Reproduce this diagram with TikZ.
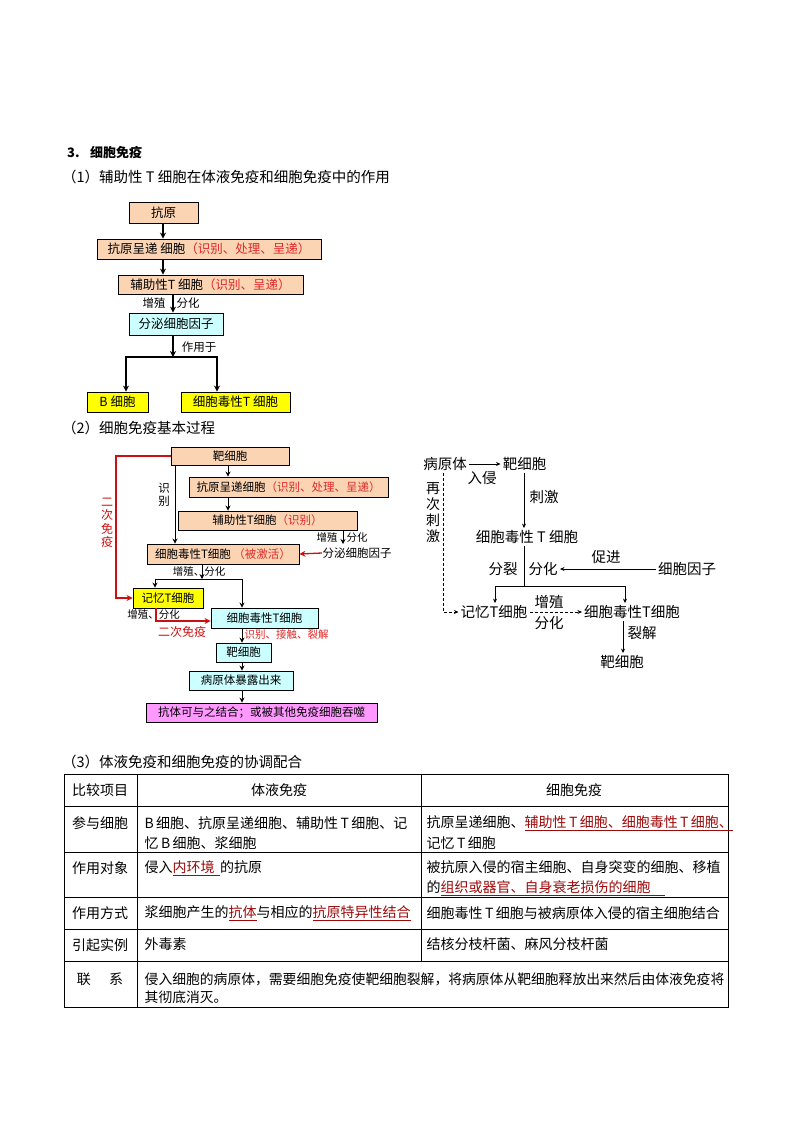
\documentclass[tikz,border=0pt]{standalone}
\usepackage{fontspec}
\setmainfont{Noto Sans CJK SC}
\usetikzlibrary{arrows.meta,calc}
\definecolor{peach}{HTML}{FBD4B4}
\definecolor{lcyan}{HTML}{CCFFFF}
\definecolor{yfill}{HTML}{FFFF00}
\definecolor{mfill}{HTML}{FF99FF}
\definecolor{tred}{HTML}{E02828}
\definecolor{dred}{HTML}{CC1010}
\definecolor{mred}{HTML}{9C0A0A}
\tikzset{
  bx/.style={draw=black, line width=0.9pt, inner sep=0pt, align=center},
  pbox/.style={bx, fill=peach},
  cbox/.style={bx, fill=lcyan},
  ybox/.style={bx, fill=yfill},
  mbox/.style={bx, fill=mfill},
  fA/.style={font=\fontsize{12.5}{14}\selectfont},
  fB/.style={font=\fontsize{11.5}{13}\selectfont},
  fS/.style={font=\fontsize{10.5}{12}\selectfont},
  fC/.style={font=\fontsize{14.5}{16}\selectfont},
  fT/.style={font=\fontsize{14}{15.5}\selectfont},
  fH/.style={font=\fontsize{14.5}{16}\selectfont},
  lbl/.style={inner sep=0.5pt},
  tx/.style={inner sep=2pt},
  arrA/.style={-{Stealth[length=6pt,width=6pt]}, line width=1.4pt},
  arrB/.style={-{Stealth[length=5pt,width=5pt]}, line width=1pt},
  rarr/.style={-{Stealth[length=6pt,width=6pt]}, line width=1.3pt, draw=dred},
  arrC/.style={-{Stealth[length=4.5pt,width=4pt]}, line width=0.7pt},
  dsh/.style={line width=0.7pt, dash pattern=on 3pt off 2pt},
  tline/.style={line width=0.8pt, draw=black},
}
\begin{document}
\begin{tikzpicture}[x=1pt,y=-1pt]
\useasboundingbox (0,0) rectangle (794,1123);
\fill[white] (0,0) rectangle (794,1123);

% ---------- titles ----------
\node[anchor=west, inner sep=0pt, font=\bfseries\fontsize{13}{14}\selectfont] (ttl3) at (67,153) {3.\hspace{0.8em}细胞免疫};
\node[anchor=west, inner sep=0pt, fH] (ttl1) at (62,177) {（1）辅助性 T 细胞在体液免疫和细胞免疫中的作用};
\node[anchor=west, inner sep=0pt, fH] (ttl2) at (62,428) {（2）细胞免疫基本过程};
\node[anchor=west, inner sep=0pt, fH] (ttl4) at (62,762) {（3）体液免疫和细胞免疫的协调配合};

% ---------- diagram 1 ----------
\node[pbox, fA, minimum width=69pt, minimum height=21pt] (d1a) at (163.5,212.5) {抗原};
\node[pbox, fA, minimum width=224pt, minimum height=20pt] (d1b) at (209,249) {抗原呈递 细胞\textcolor{tred}{（识别、处理、呈递）}};
\node[pbox, fA, minimum width=185pt, minimum height=19pt] (d1c) at (210.5,284.5) {辅助性T 细胞\textcolor{tred}{（识别、呈递）}};
\node[cbox, fA, minimum width=94pt, minimum height=22pt] (d1d) at (176,324) {分泌细胞因子};
\node[ybox, fA, minimum width=61pt, minimum height=20pt] (d1e) at (117.5,402) {B 细胞};
\node[ybox, fA, minimum width=109pt, minimum height=20pt] (d1f) at (235.5,402) {细胞毒性T 细胞};

\coordinate (x163) at (163,0);
\coordinate (x173) at (173,0);
\coordinate (j1) at (173,357);
\coordinate (j1L) at (126,357);
\coordinate (j1R) at (217,357);
\draw[arrA] (x163 |- d1a.south) -- (x163 |- d1b.north);
\draw[arrA] (x163 |- d1b.south) -- (x163 |- d1c.north);
\draw[arrA] (x173 |- d1c.south) -- (x173 |- d1d.north);
\draw[arrA] (x173 |- d1d.south) -- (j1);
\draw[line width=1.4pt] (j1L) -- (j1R);
\draw[arrA] ([yshift=0.7pt]j1L) -- (j1L |- d1e.north);
\draw[arrA] ([yshift=0.7pt]j1R) -- (j1R |- d1f.north);
\node[lbl, fB] (l1a) at (154,303) {增殖};
\node[lbl, fB] (l1b) at (188,303) {分化};
\node[lbl, fB] (l1c) at (199,347) {作用于};

% ---------- diagram 2 ----------
\node[pbox, fB, minimum width=118pt, minimum height=18pt] (d2a) at (230,456) {靶细胞};
\node[pbox, fB, minimum width=199pt, minimum height=20pt] (d2b) at (288.5,487) {抗原呈递细胞\textcolor{tred}{（识别、处理、呈递）}};
\node[pbox, fB, minimum width=179pt, minimum height=19pt] (d2c) at (267.5,520.5) {辅助性T细胞\textcolor{tred}{（识别）}};
\node[pbox, fB, minimum width=152pt, minimum height=20pt] (d2d) at (223,554) {细胞毒性T细胞 \textcolor{tred}{（被激活）}};
\node[anchor=west, lbl, fB] (d2e) at (322,553) {分泌细胞因子};
\node[ybox, fB, minimum width=70pt, minimum height=20pt] (d2f) at (168,598) {记忆T细胞};
\node[cbox, fB, minimum width=107pt, minimum height=20pt] (d2g) at (264.5,618) {细胞毒性T细胞};
\node[cbox, fB, minimum width=55pt, minimum height=19pt] (d2h) at (243.5,652.5) {靶细胞};
\node[cbox, fB, minimum width=104pt, minimum height=19pt] (d2i) at (241,680.5) {病原体暴露出来};
\node[mbox, fB, minimum width=231pt, minimum height=19pt] (d2j) at (261.5,712.5) {抗体可与之结合；或被其他免疫细胞吞噬};

\coordinate (x175) at (175,0);
\coordinate (x228) at (228,0);
\coordinate (x242) at (242,0);
\coordinate (x156) at (156,0);
\coordinate (k343) at (343,544);
\coordinate (r1) at (116,456);
\coordinate (r2) at (116,598);
\coordinate (j2) at (202,579);
\coordinate (j2L) at (155,579);
\coordinate (j2R) at (242,579);

\draw[rarr] (d2a.west) -- (r1) -- (r2) -- (d2f.west);
\node[lbl, align=center, text=dred, font=\fontsize{12}{13.5}\selectfont] (l2r) at (107,523) {二\\次\\免\\疫};
\draw[arrB] (x175 |- d2a.south) -- (x175 |- d2d.north);
\node[lbl, align=center, fB] (l2s) at (164,495) {识\\别};
\draw[arrB] (x228 |- d2a.south) -- (x228 |- d2b.north);
\draw[arrB] (x228 |- d2b.south) -- (x228 |- d2c.north);
\draw[arrB] (k343 |- d2c.south) -- (k343);
\node[lbl, fS] (l2a) at (327,538) {增殖};
\node[lbl, fS] (l2b) at (357,538) {分化};
\draw[rarr] (d2e.west) -- (d2d.east);
\node[lbl, fS] (l2c) at (199,572) {增殖、分化};
\draw[arrB] (j2 |- d2d.south) -- (j2);
\draw[line width=1pt] (j2L) -- (j2R);
\draw[arrB] ([yshift=0.5pt]j2L) -- (j2L |- d2f.north);
\draw[arrB] ([yshift=0.5pt]j2R) -- (j2R |- d2g.north);
\node[lbl, fS] (l2d) at (153.5,615) {增殖、分化};
\draw[rarr] (x156 |- d2f.south) -- (x156 |- 0,621) -- ([yshift=-3pt]d2g.west);
\node[lbl, text=dred, font=\fontsize{12}{13.5}\selectfont] (l2e) at (182,632) {二次免疫};
\draw[arrB] (x242 |- d2g.south) -- (x242 |- d2h.north);
\node[anchor=west, lbl, fS, text=tred] (l2f) at (244,635) {识别、接触、裂解};
\draw[arrB] (x242 |- d2h.south) -- (x242 |- d2i.north);
\draw[arrB] (x242 |- d2i.south) -- (x242 |- d2j.north);

% ---------- diagram 3 ----------
\node[tx, fC] (d3a) at (445,464) {病原体};
\node[tx, fC] (d3b) at (524.5,464) {靶细胞};
\node[tx, fC] (d3c) at (527,537) {细胞毒性 T 细胞};
\node[tx, fC] (d3d) at (687,569) {细胞因子};
\node[tx, fC] (d3e) at (494,612) {记忆T细胞};
\node[tx, fC] (d3f) at (632,612) {细胞毒性T细胞};
\node[tx, fC] (d3g) at (622,662) {靶细胞};

\coordinate (x524) at (524,0);
\coordinate (x623) at (623,0);
\coordinate (x443) at (443,0);
\coordinate (j3) at (524,586);
\coordinate (j3L) at (495,586);
\coordinate (j3R) at (625,586);
\coordinate (c3) at (560,569);

\draw[arrC] (d3a.east) -- (d3b.west);
\node[lbl, fC] (l3a) at (482,478) {入侵};
\draw[arrC] (x524 |- d3b.south) -- (x524 |- d3c.north);
\node[lbl, fC] (l3b) at (544,497) {刺激};
\draw[line width=0.7pt] (x524 |- d3c.south) -- (j3);
\node[lbl, fC] (l3c) at (503,569) {分裂};
\node[lbl, fC] (l3d) at (543,569) {分化};
\draw[arrC] (d3d.west) -- (c3);
\node[lbl, fC] (l3e) at (606,557) {促进};
\draw[line width=0.7pt] (j3L) -- (j3R);
\draw[arrC] (j3L) -- (j3L |- d3e.north);
\draw[arrC] (j3R) -- (j3R |- d3f.north);
\draw[arrC, dsh] (d3e.east) -- (d3f.west);
\node[lbl, fC] (l3f) at (549,602) {增殖};
\node[lbl, fC] (l3g) at (549,623) {分化};
\draw[arrC] (x623 |- d3f.south) -- (x623 |- d3g.north);
\node[lbl, fC] (l3h) at (642,633) {裂解};
\draw[arrC, dsh] (x443 |- d3a.south) -- (x443 |- d3e.west) -- (d3e.west);
\node[lbl, align=center, font=\fontsize{14}{16}\selectfont] (l3i) at (433,513) {再\\次\\刺\\激};

% ---------- table ----------
\draw[tline] (64,774) rectangle (728,1007);
\foreach \yy in {806,852,897,929,961} \draw[tline] (64,\yy) -- (728,\yy);
\draw[tline] (137,774) -- (137,1007);
\draw[tline] (421,774) -- (421,961);

\node[fT, lbl] (h1) at (100,790) {比较项目};
\node[fT, lbl] (h2) at (279,790) {体液免疫};
\node[fT, lbl] (h3) at (574,790) {细胞免疫};

\node[fT, lbl] (r1a) at (100,823) {参与细胞};
\node[fT, lbl, anchor=west] (r1b) at (144,823) {B\,细胞、抗原呈递细胞、辅助性\,T\,细胞、记};
\node[fT, lbl, anchor=west] (r1b2) at (144,843) {忆\,B\,细胞、浆细胞};
\node[fT, lbl, anchor=west] (r1c) at (426,823) {抗原呈递细胞、\textcolor{mred}{\underline{辅助性\,T\,细胞、细胞毒性\,T\,细胞、}}};
\node[fT, lbl, anchor=west] (r1c2) at (426,843) {记忆\,T\,细胞};

\node[fT, lbl] (r2a) at (100,868) {作用对象};
\node[fT, lbl, anchor=west] (r2b) at (144,868) {侵入\textcolor{mred}{\underline{内环境\ \,}}的抗原};
\node[fT, lbl, anchor=west] (r2c) at (426,867) {被抗原入侵的宿主细胞、自身突变的细胞、移植};
\node[fT, lbl, anchor=west] (r2c2) at (426,888) {的\textcolor{mred}{\underline{组织或器官、自身衰老损伤的细胞\quad}}};

\node[fT, lbl] (r3a) at (100,913) {作用方式};
\node[fT, lbl, anchor=west] (r3b) at (144,913) {浆细胞产生的\textcolor{mred}{\underline{抗体}}与相应的\textcolor{mred}{\underline{抗原特异性结合}}};
\node[fT, lbl, anchor=west] (r3c) at (426,913) {细胞毒性\,T\,细胞与被病原体入侵的宿主细胞结合};

\node[fT, lbl] (r4a) at (100,945) {引起实例};
\node[fT, lbl, anchor=west] (r4b) at (144,944) {外毒素};
\node[fT, lbl, anchor=west] (r4c) at (426,944) {结核分枝杆菌、麻风分枝杆菌};

\node[fT, lbl] (r5a) at (100,979) {联\hspace{1.3em}系};
\node[font=\fontsize{13.8}{15}\selectfont, lbl, anchor=west] (r5b) at (144,979) {侵入细胞的病原体，需要细胞免疫使靶细胞裂解，将病原体从靶细胞释放出来然后由体液免疫将};
\node[font=\fontsize{13.8}{15}\selectfont, lbl, anchor=west] (r5b2) at (144,997) {其彻底消灭。};
\end{tikzpicture}
\end{document}
